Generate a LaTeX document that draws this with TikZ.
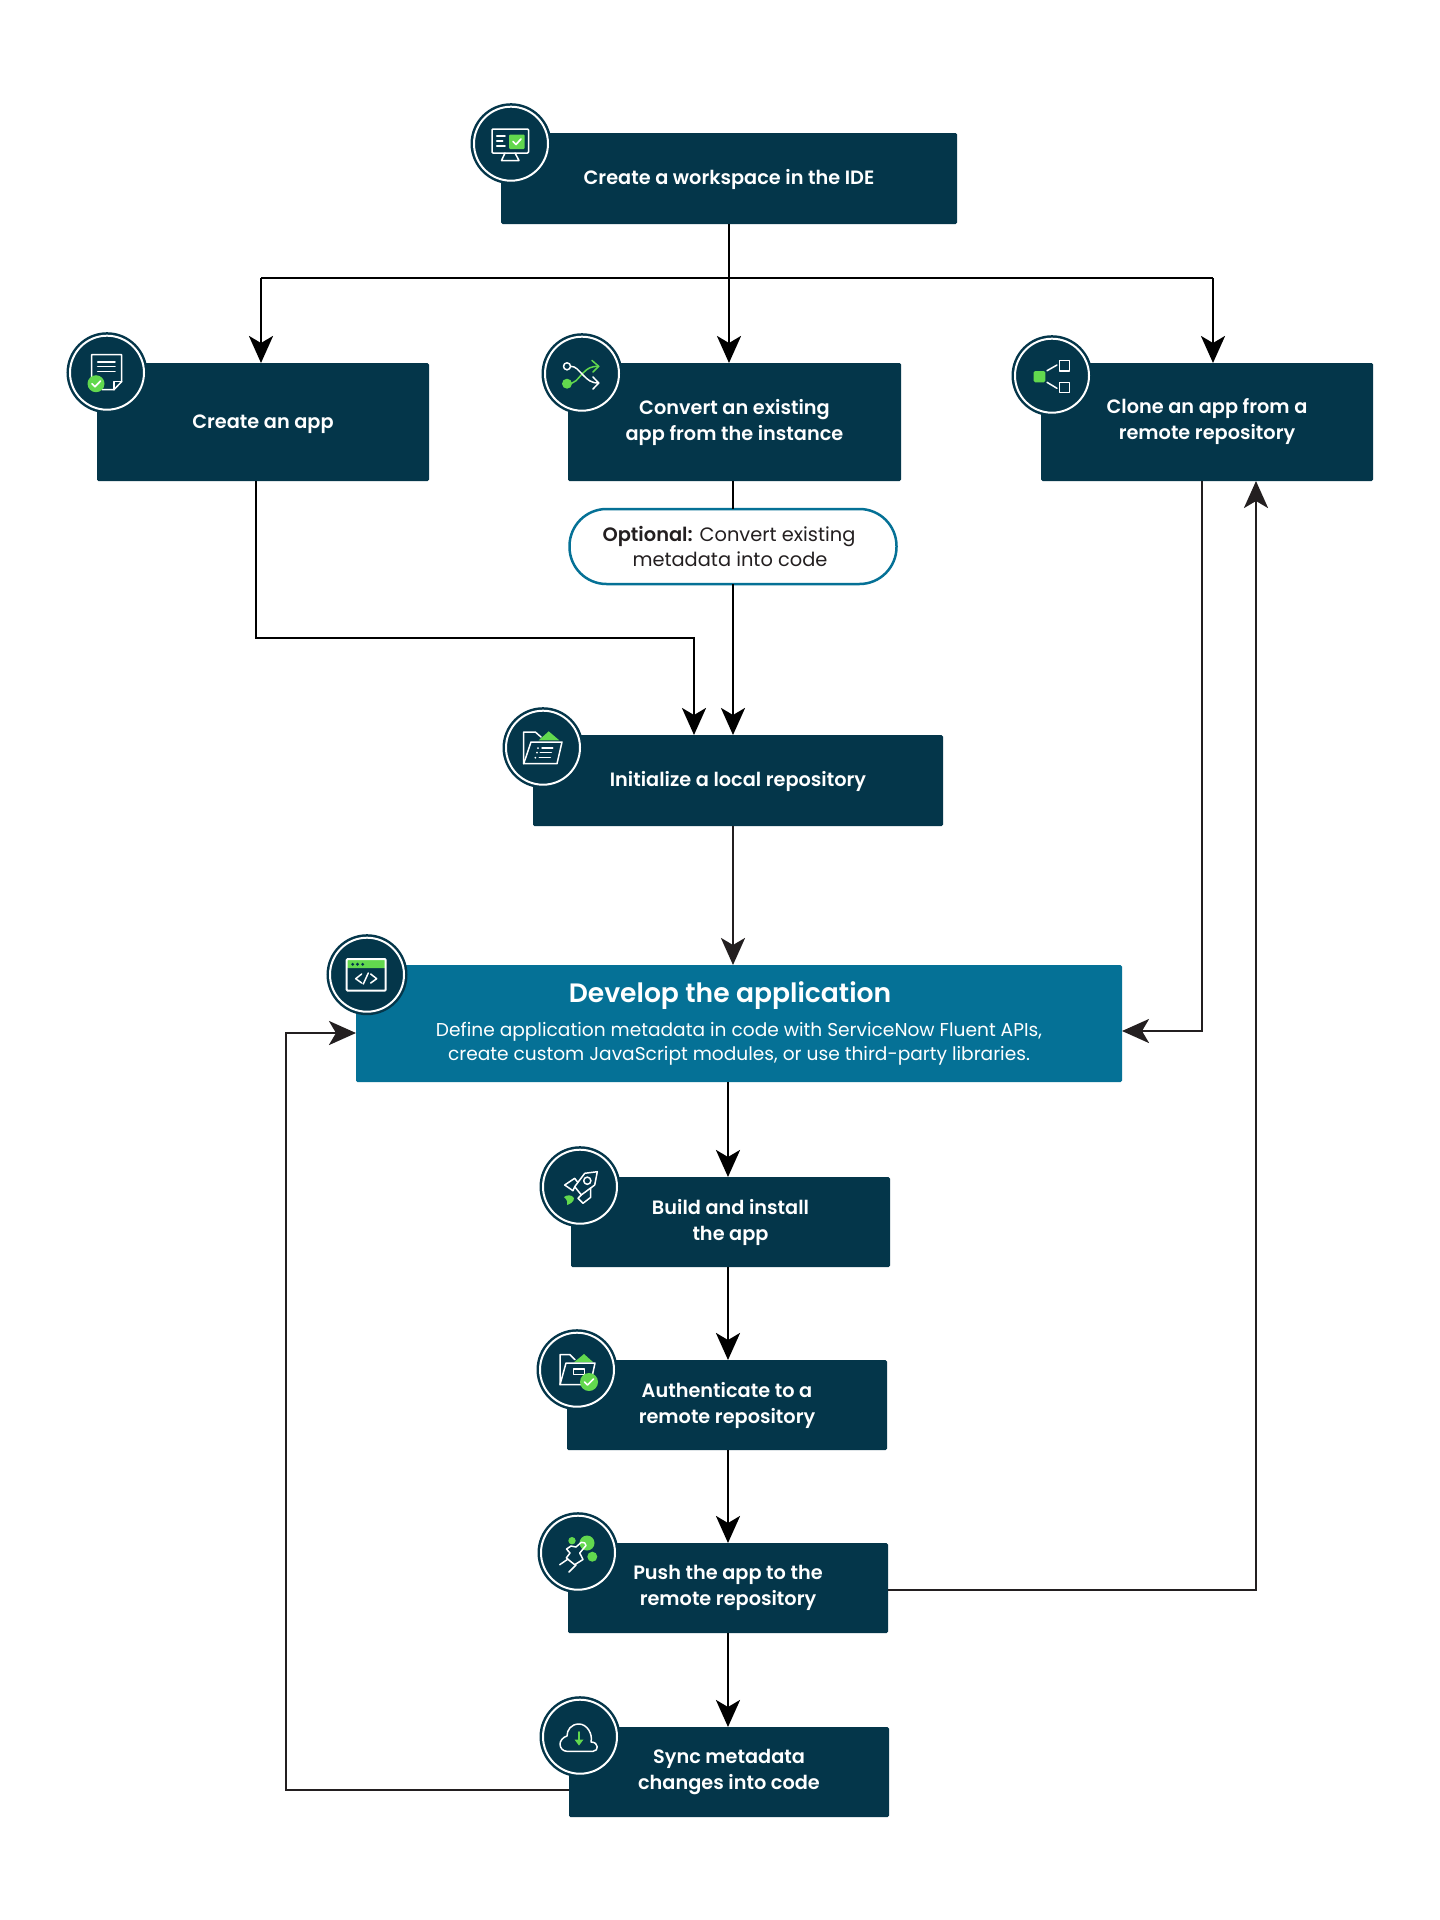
\documentclass[tikz,border=0pt]{standalone}
\usepackage{fontspec}
\setmainfont{Poppins SemiBold}
\newfontfamily\regfont{Poppins}
\newfontfamily\semifont{Poppins SemiBold}
\usetikzlibrary{arrows.meta,calc}
\definecolor{navy}{HTML}{04364A}
\definecolor{teal}{HTML}{057196}
\definecolor{leaf}{HTML}{62D84E}
\definecolor{ink}{HTML}{231F20}
\tikzset{
  flowbox/.style={rectangle,fill=navy,rounded corners=1.5pt,text=white,align=center,anchor=north west,inner sep=0pt,outer sep=0pt,font=\fontsize{19.3}{26}\selectfont,execute at begin node={\rule{0pt}{18pt}}},
  devbox/.style={rectangle,fill=teal,rounded corners=1.5pt,text=white,align=center,anchor=north west,inner sep=0pt,outer sep=0pt,font=\regfont\fontsize{18.6}{24.5}\selectfont},
  pillbox/.style={rectangle,draw=teal,line width=2.5pt,fill=white,rounded corners=37pt,text=ink,align=center,inner sep=0pt,outer sep=0pt,font=\regfont\fontsize{19.4}{25}\selectfont},
  ring/.style={circle,fill=navy,draw=navy,line width=2.5pt,double=white,double distance=2pt,minimum size=74pt,inner sep=0pt,outer sep=0pt},
  link/.style={draw=black,line width=2.8pt},
  arrowlink/.style={link,-{Stealth[length=27pt,width=24pt,inset=7pt]}},
  darklink/.style={arrowlink,draw=ink},
  ico/.style={draw=white,line width=1.5pt,line join=round,line cap=round},
  okmark/.style={draw=white,line width=1.7pt,line cap=round,line join=round},
  icoshift/.style={xshift=-1pt,yshift=0.7pt},
}
\begin{document}
\begin{tikzpicture}[x=1pt,y=-1pt]
\useasboundingbox (0,0) rectangle (1440,1920);
\fill[white] (0,0) rectangle (1440,1920);
% boxes
\node[flowbox,minimum width=456pt,minimum height=91pt] (ws) at (501,133) {Create a workspace in the IDE};
\node[flowbox,minimum width=332pt,minimum height=118pt] (create) at (97,363) {Create an app};
\node[flowbox,minimum width=333pt,minimum height=118pt] (convert) at (568,363) {Convert an existing\\app from the instance};
\node[flowbox,minimum width=332pt,minimum height=118pt] (clone) at (1041,363) {Clone an app from a\\remote repository};
\node[pillbox,minimum width=327pt,minimum height=75pt] (pill) at (733,546.5) {{\semifont Optional:} Convert existing\hspace*{8pt}\\metadata into code\hspace*{6pt}};
\node[flowbox,minimum width=410pt,minimum height=91pt] (init) at (533,735) {Initialize a local repository};
\node[devbox,minimum width=766pt,minimum height=117pt] (dev) at (356,965) {{\semifont\fontsize{26.6}{34}\selectfont Develop the application}\hspace*{18pt}\\[9pt]Define application metadata in code with ServiceNow Fluent APIs,\\create custom JavaScript modules, or use third-party libraries.};
\node[flowbox,minimum width=319pt,minimum height=90pt] (build) at (571,1177) {Build and install\\the app};
\node[flowbox,minimum width=320pt,minimum height=90pt] (auth) at (567,1360) {Authenticate to a\\remote repository};
\node[flowbox,minimum width=320pt,minimum height=90pt] (push) at (568,1543) {Push the app to the\\remote repository};
\node[flowbox,minimum width=320pt,minimum height=90pt] (sync) at (569,1727) {Sync metadata\\changes into code};
% routing coordinates
\coordinate (hub) at (729,278);
\coordinate (xcreateIn) at (261,0);
\coordinate (xcloneIn) at (1213,0);
\coordinate (xcreateOut) at (256,0);
\coordinate (xmid) at (733,0);
\coordinate (xleftIn) at (694,0);
\coordinate (ymerge) at (0,638);
\coordinate (xcloneOut) at (1202,0);
\coordinate (ydevR) at (0,1031);
\coordinate (xback) at (1256,0);
\coordinate (ypush) at (0,1590);
\coordinate (xsync) at (286,0);
\coordinate (ysync) at (0,1790);
\coordinate (ydevL) at (0,1033);
\coordinate (xmain) at (729,0);
\coordinate (xlow) at (728,0);
% connectors
\draw[arrowlink] (xmain |- ws.south) -- (xmain |- convert.north);
\draw[link] (xcreateIn |- hub) -- (xcloneIn |- hub);
\draw[arrowlink] (xcreateIn |- hub) -- (xcreateIn |- create.north);
\draw[arrowlink] (xcloneIn |- hub) -- (xcloneIn |- clone.north);
\draw[arrowlink] (xcreateOut |- create.south) -- (xcreateOut |- ymerge) -- (xleftIn |- ymerge) -- (xleftIn |- init.north);
\draw[link] (xmid |- convert.south) -- (xmid |- pill.north);
\draw[arrowlink] (xmid |- pill.south) -- (xmid |- init.north);
\draw[darklink] (xmid |- init.south) -- (xmid |- dev.north);
\draw[darklink] (xcloneOut |- clone.south) -- (xcloneOut |- ydevR) -- (dev.east |- ydevR);
\draw[darklink] (push.east |- ypush) -- (xback |- ypush) -- (xback |- clone.south);
\draw[darklink] (sync.west |- ysync) -- (xsync |- ysync) -- (xsync |- ydevL) -- (dev.west |- ydevL);
\draw[arrowlink] (xlow |- dev.south) -- (xlow |- build.north);
\draw[arrowlink] (xlow |- build.south) -- (xlow |- auth.north);
\draw[arrowlink] (xlow |- auth.south) -- (xlow |- push.north);
\draw[arrowlink] (xlow |- push.south) -- (xlow |- sync.north);
% icon discs
\node[ring] (iws) at (511,143.7) {};
\node[ring] (icreate) at (107,372.7) {};
\node[ring] (iconvert) at (582,373.7) {};
\node[ring] (iclone) at (1052,375.7) {};
\node[ring] (iinit) at (543,747.7) {};
\node[ring] (idev) at (367,974.7) {};
\node[ring] (ibuild) at (580,1186.7) {};
\node[ring] (iauth) at (577,1369.7) {};
\node[ring] (ipush) at (578,1552.7) {};
\node[ring] (isync) at (580,1736.7) {};
% monitor
\begin{scope}[shift={(iws.center)},icoshift]
\draw[ico,rounded corners=1pt] (-18,-14) rectangle (18.5,10);
\fill[leaf,rounded corners=1pt] (-1,-8.5) rectangle (14.5,6);
\draw[okmark] (3,-1.5) -- (6,1.5) -- (11,-4);
\draw[ico] (-13.3,-7) -- (-5,-7) (-13.3,-2) -- (-7.3,-2) (-13.3,3) -- (-5,3);
\draw[ico] (-5,10) -- (-8.5,17.5) -- (9,17.5) -- (5,10);
\end{scope}
% document
\begin{scope}[shift={(icreate.center)},icoshift]
\draw[ico] (-14.3,9) -- (-14.3,-17.3) -- (15.7,-17.3) -- (15.7,9.5) -- (8,17.7) -- (-4,17.7);
\draw[ico] (15.7,9.5) -- (8,9.5) -- (8,17.7);
\draw[ico] (-8.3,-10) -- (9,-10) (-8.3,-5.5) -- (9,-5.5) (-8.3,-0.7) -- (9,-0.7);
\fill[leaf] (-10,11.7) circle (8.5pt);
\draw[okmark] (-14,11.7) -- (-11,14.7) -- (-5.5,9);
\end{scope}
% shuffle
\begin{scope}[shift={(iconvert.center)},icoshift]
\draw[ico,leaf] (-14,10.7) .. controls (-5,10.7) and (-4,6) .. (2,0) .. controls (7,-5) and (10,-6.7) .. (17.7,-6.7);
\draw[ico,leaf] (11,-12.5) -- (17.7,-6.7) -- (12,-1);
\fill[leaf] (-14,10.7) circle (5pt);
\draw[ico] (-10.5,-6.7) .. controls (-5,-6.7) and (-3,-3) .. (2,2) .. controls (7,7) and (10,10) .. (17.7,10);
\draw[ico] (12,4) -- (17.7,10) -- (12,16);
\draw[ico,fill=navy] (-14,-6.7) circle (3.5pt);
\end{scope}
% clone
\begin{scope}[shift={(iclone.center)},icoshift]
\fill[leaf,rounded corners=1.5pt] (-17.3,-4) rectangle (-5.7,7.3);
\draw[ico] (8.3,-14.3) rectangle (18.7,-4);
\draw[ico] (8.3,7.3) rectangle (18.7,17.7);
\draw[ico] (-4,-4.3) -- (6,-10) (-4,7.3) -- (6,13.3);
\end{scope}
% folder with list
\begin{scope}[shift={(iinit.center)},icoshift]
\fill[leaf] (6.7,-15.7) -- (17.3,-6.7) -- (-3.3,-6.7) -- cycle;
\draw[ico] (-18.3,16.7) -- (-18.3,-15) -- (-6.7,-15) -- (-1,-10);
\draw[ico] (-11,-5) -- (20,-5) -- (15,16.7) -- (-18.3,16.7) -- cycle;
\draw[ico] (0,1) -- (10.7,1) (-1.7,5.7) -- (9.3,5.7) (-2.7,10.7) -- (8.3,10.7);
\fill[white] (-4,1) circle (1pt) (-5,5.7) circle (1pt) (-6.7,10.7) circle (1pt);
\end{scope}
% window
\begin{scope}[shift={(idev.center)},icoshift]
\fill[leaf,rounded corners=1pt] (-19.3,-15) rectangle (19.7,-6);
\draw[ico,line width=2pt,rounded corners=1pt] (-19.3,-15) rectangle (19.7,16.7);
\fill[navy] (-13.3,-9.7) circle (1.6pt) (-8.5,-9.7) circle (1.6pt) (-3.3,-9.7) circle (1.6pt);
\draw[ico] (-4.3,0) -- (-10.3,4.7) -- (-4.3,9) (4.7,0) -- (10.7,4.7) -- (4.7,9) (2.3,-1) -- (-2.7,10);
\end{scope}
% rocket
\begin{scope}[shift={(ibuild.center)},icoshift]
\draw[ico] (18.3,-14.3) -- (5.7,-12.7) -- (-4.3,0.7) -- (2.3,8.9) -- (15.7,-1) -- cycle;
\draw[ico] (8.3,-5.3) circle (3.6pt);
\draw[ico] (-1.5,-4) -- (-4.3,-7.7) -- (-14.3,-1) -- (-6,4.7) -- (-4.3,0.7);
\draw[ico] (11.7,2) -- (11.7,11.3) -- (4,17.3) -- (-1,12.3) -- (2.3,8.9);
\fill[leaf] (-15,11) .. controls (-12,9) and (-8,8) .. (-5,12) .. controls (-5,16) and (-9,18) .. (-12,19) .. controls (-11,16) and (-12,14) .. (-15,11) -- cycle;
\end{scope}
% folder with check
\begin{scope}[shift={(iauth.center)},icoshift]
\fill[leaf] (8,-15) -- (17.3,-6.7) -- (-2,-6.7) -- cycle;
\draw[ico] (-16,15.7) -- (-16,-14.3) -- (-6,-14.3) -- (-1,-9.3);
\draw[ico] (-10,-6) -- (19,-6) -- (16,8) (5,15.7) -- (-16,15.7) -- (-10,-6);
\draw[ico] (-2.7,0) rectangle (8.3,5.7);
\fill[leaf] (13,13) circle (9pt);
\draw[okmark] (8.5,13) -- (11.5,16) -- (17.5,10);
\end{scope}
% push
\begin{scope}[shift={(ipush.center)},icoshift]
\fill[leaf] (10,-9) circle (7.5pt) (-5,-11.3) circle (3.7pt) (15.3,4.7) circle (5pt);
\draw[ico] (-10.5,-3) -- (-6,-6) -- (-1,-5) -- (4.3,-9.7) .. controls (7,-11) and (9,-8) .. (9,-6.5) -- (2.7,1) -- (6,7.5) -- (-2.3,12.7) -- (-10.7,6) -- (-7,1) -- cycle;
\draw[ico] (-9,7) -- (-17.3,12.7) (-1,13) -- (-8,20);
\end{scope}
% cloud
\begin{scope}[shift={(isync.center)},icoshift]
\draw[ico] (-12,15.3) -- (14,15.3) .. controls (20,15.3) and (20,6) .. (12,6) .. controls (14,-2) and (8,-12) .. (0,-12) .. controls (-8,-12) and (-12,-6) .. (-12,0) .. controls (-16,1) and (-19,5) .. (-19,8) .. controls (-19,12) and (-16,15.3) .. (-12,15.3) -- cycle;
\draw[ico,leaf,line width=2pt] (0,-4) -- (0,6);
\fill[leaf] (-4.5,3.5) -- (0,9.5) -- (4.5,3.5) -- cycle;
\end{scope}
\end{tikzpicture}
\end{document}
